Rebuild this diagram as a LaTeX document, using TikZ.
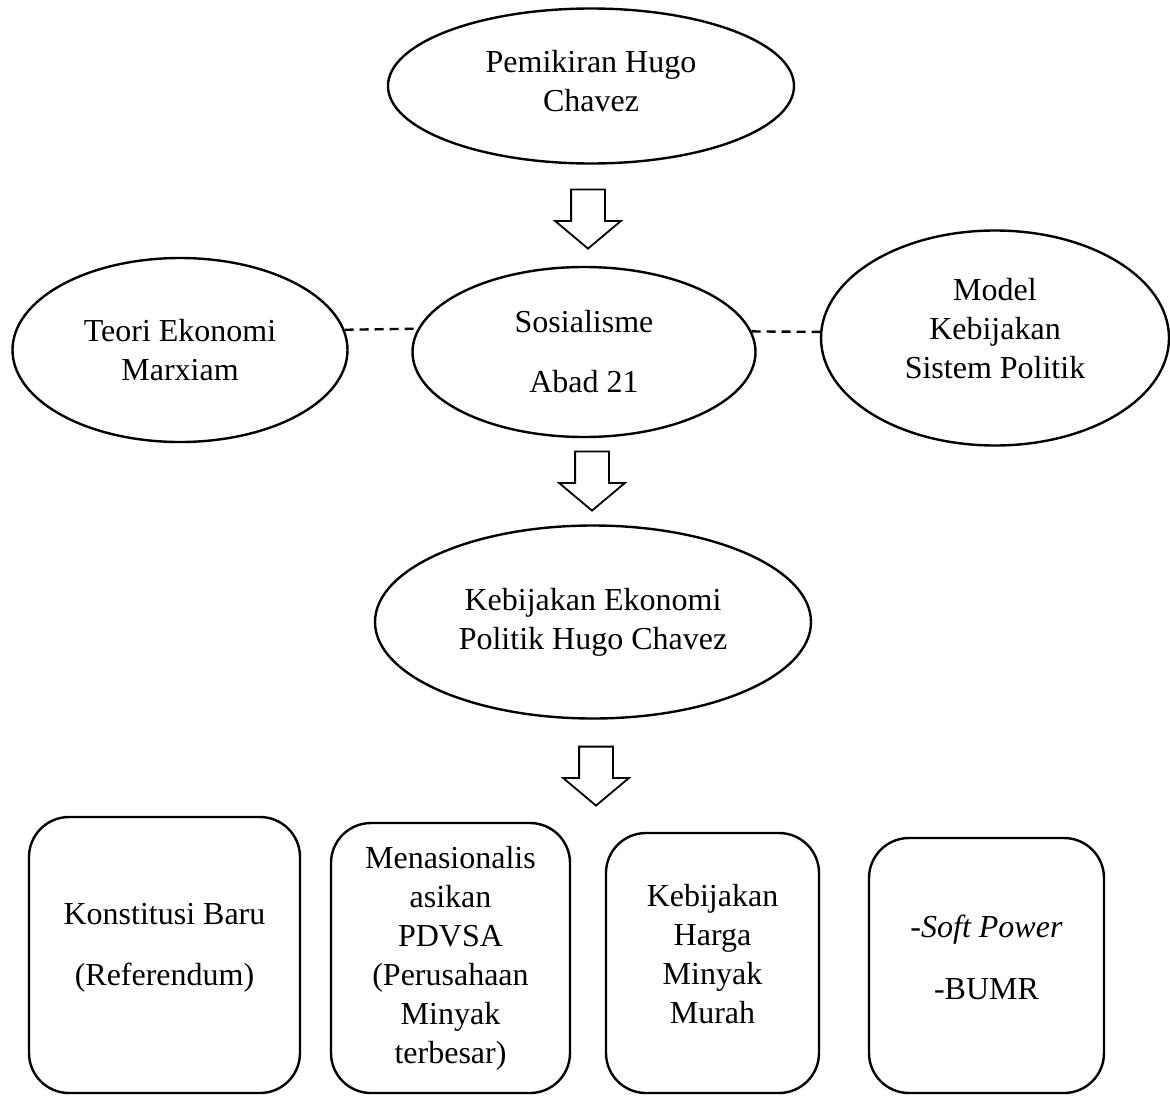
\documentclass[tikz,border=0pt]{standalone}
\usepackage{fontspec}
\setmainfont{Liberation Serif}
\usetikzlibrary{shapes.geometric,shapes.arrows}

\begin{document}
\begin{tikzpicture}[x=1pt,y=1pt,
   every node/.style={font=\fontsize{32}{39}\selectfont},
   bub/.style={draw, ellipse, line width=2.4pt, inner sep=0pt, align=center},
   card/.style={draw, rectangle, rounded corners=40pt, line width=2.4pt, align=center},
   blk/.style={draw, single arrow, rotate=-90, line width=1.8pt, minimum height=59pt,
               inner xsep=0pt, inner ysep=16pt, single arrow head extend=16pt,
               single arrow tip angle=100},
   link/.style={line width=2.4pt, dash pattern=on 9pt off 6pt}]
\useasboundingbox (0,0) rectangle (1170,-1098);
%
      \node [bub, minimum width=406pt, minimum height=155pt, text depth=10pt] at (591,-86) (pem) {Pemikiran Hugo\\Chavez};
      \node [blk] at (588,-212) (a1) {};
      \node [bub, minimum width=335pt, minimum height=184pt] at (180,-350) (teori) {Teori Ekonomi\\Marxiam};
      \node [bub, minimum width=343pt, minimum height=170pt] at (584,-352) (sos) {Sosialisme\\[21pt]Abad 21};
      \node [bub, minimum width=348pt, minimum height=215pt, text depth=20pt] at (995,-338) (model) {Model\\Kebijakan\\Sistem Politik};
      \node [blk] at (592,-474) (a2) {};
      \node [bub, minimum width=436pt, minimum height=193pt] at (593,-622) (keb) {Kebijakan Ekonomi\\Politik Hugo Chavez};
      \node [blk] at (596,-769) (a3) {};
%
      \node [card, minimum width=271pt, minimum height=276pt, text depth=21pt] at (164.5,-955) (konst) {Konstitusi Baru\\[22pt](Referendum)};
      \node [card, minimum width=239pt, minimum height=270pt] at (450.5,-958) (pdvsa) {Menasionalis\\asikan\\PDVSA\\(Perusahaan\\Minyak\\terbesar)};
      \node [card, minimum width=213pt, minimum height=260pt, text depth=18pt] at (712.5,-963) (harga) {Kebijakan\\Harga\\Minyak\\Murah};
      \node [card, minimum width=235pt, minimum height=255pt, text depth=16pt] at (986.5,-965.5) (soft) {-\textit{Soft Power}\\[23pt]-BUMR};
%
\draw[link] (teori.7) -- (sos.172);
\draw[link] (sos.7) -- (model.178);
\end{tikzpicture}
\end{document}
